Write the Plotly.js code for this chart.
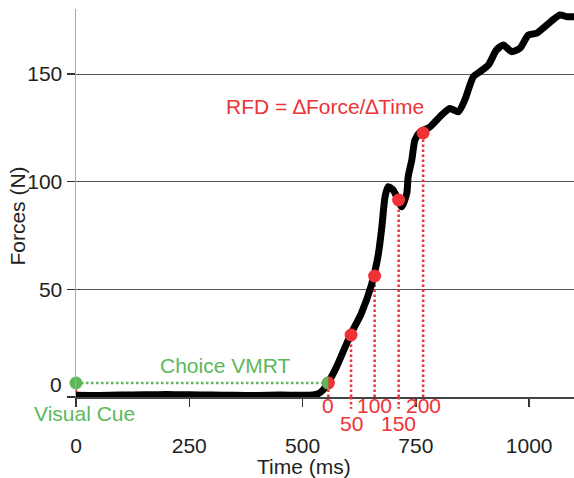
<!DOCTYPE html>
<html>
<head>
<meta charset="utf-8">
<script src="https://cdn.plot.ly/plotly-3.0.1.min.js"></script>
<style>html,body{margin:0;padding:0;background:#fff;}#chart{width:574px;height:478px;}</style>
</head>
<body>
<div id="chart"></div>
<script>
// Force trace (ms, N)
const timeMs = [0,50,100,150,200,250,300,350,400,450,500,523,535,545,556,575,605,630,652,667,675,682,689,700,711,719,730,733,741,748,759,781,807,825,844,858,877,891,910,928,943,961,980,998,1017,1039,1068,1083,1100];
const forceN = [0.8,0.7,0.9,1.0,1.2,1.0,0.9,0.8,0.7,0.9,0.8,1.0,1.6,3.2,6.5,14,28.5,39,52,66,79,93,97.7,96.1,91.5,88.4,94.6,102.3,110,119.4,123,125.4,131,134,132.5,138,148.8,151,154.2,161.2,163.5,160.4,162,168.1,169,172.8,177.4,176.6,176.6];

// RFD sample points (onset + 50 ms steps)
const rfdTimes = [557, 607, 659, 712, 766];
const rfdForces = [6.5, 28.8, 56.2, 91.5, 122.6];
const rfdLabels = ["0", "50", "100", "150", "200"];

// Visual cue
const cueTime = [0];
const cueForce = [6.5];

// Axis ticks
const xTicks = [0, 250, 500, 750, 1000];
const yTicks = [0, 50, 100, 150];
const yTickText = ["", "50", "100", "150"];

const RED = "#ee3236";
const GREEN = "#5cb85a";
const FONT = "Liberation Sans, Arial, sans-serif";
const TXT = "#231f20";
const FS = 21;

const traces = [
  { // green dotted line: visual cue -> onset
    x: [cueTime[0], rfdTimes[0]], y: [cueForce[0], cueForce[0]],
    mode: "lines", line: {color: GREEN, width: 2.5, dash: "2.5px,2.5px"}, hoverinfo: "skip"
  },
  { // force curve
    x: timeMs, y: forceN, mode: "lines",
    line: {color: "#000", width: 7, shape: "spline", smoothing: 0.6}
  },
  { // RFD points
    x: rfdTimes, y: rfdForces, mode: "markers",
    marker: {color: RED, size: 13}, cliponaxis: false
  },
  { // visual cue point
    x: cueTime, y: cueForce, mode: "markers",
    marker: {color: GREEN, size: 13}, cliponaxis: false
  }
];

const shapes = [];
const dotLine = {color: RED, width: 2.5, dash: "2.5px,2.5px"};
// red dotted line at the visual cue
shapes.push({type: "line", xref: "x", yref: "y", x0: cueTime[0], x1: cueTime[0], y0: 0, y1: cueForce[0],
  line: dotLine, layer: "between"});
rfdTimes.forEach((t, i) => {
  shapes.push({type: "line", xref: "x", yref: "y", x0: t, x1: t, y0: 0, y1: rfdForces[i],
    line: dotLine, layer: "between"});
  if (i % 2 === 1) {
    shapes.push({type: "line", xref: "x", yref: "paper", x0: t, x1: t, y0: 0, y1: -0.03,
      line: dotLine, layer: "above"});
  }
});
// green left half-disc over the onset point (pixel-sized polygon)
const R = 6.5;
let halfPath = "";
for (let k = 0; k <= 24; k++) {
  const a = Math.PI / 2 + Math.PI * k / 24;
  halfPath += (k === 0 ? "M" : "L") + (R * Math.cos(a)).toFixed(2) + "," + (R * Math.sin(a)).toFixed(2) + " ";
}
halfPath += "Z";
shapes.push({type: "path", xref: "x", yref: "y", xsizemode: "pixel", ysizemode: "pixel",
  xanchor: rfdTimes[0], yanchor: cueForce[0],
  path: halfPath, fillcolor: GREEN, line: {width: 0}, layer: "above"});

const ann = (o, color) => Object.assign({showarrow: false, xanchor: "center", yanchor: "middle",
  font: {family: FONT, size: FS, color: color}}, o);

const annotations = [
  ann({text: "RFD = \u2206Force/\u2206Time", xref: "x", yref: "y", x: 549, y: 135}, RED),
  ann({text: "Choice VMRT", xref: "x", yref: "y", x: 329, y: 14.4}, GREEN),
  ann({text: "Visual Cue", xref: "x", yref: "paper", x: cueTime[0], y: 0, xshift: 8, yshift: -16}, GREEN),
  ann({text: "0", xref: "paper", yref: "y", x: 0, y: 5.6, xanchor: "right", xshift: -12}, TXT),
  ann({text: "Time (ms)", xref: "x", yref: "paper", x: 503, y: 0, yshift: -69}, TXT),
  ann({text: "Forces (N)", xref: "paper", yref: "y", x: 0, y: 83.8, xshift: -58, textangle: -90}, TXT)
];
rfdTimes.forEach((t, i) => {
  annotations.push(ann({text: rfdLabels[i], xref: "x", yref: "paper", x: t, y: 0,
    yshift: i % 2 === 0 ? -8 : -26}, RED));
});

const layout = {
  width: 574, height: 478,
  margin: {l: 76, r: 0, t: 9, b: 81, pad: 0},
  paper_bgcolor: "#fff", plot_bgcolor: "#fff",
  showlegend: false,
  font: {family: FONT, size: FS, color: TXT},
  xaxis: {
    range: [0, 1099], tickmode: "array", tickvals: xTicks,
    ticks: "outside", ticklen: 8, tickwidth: 1.5, tickcolor: "#333",
    showline: true, linecolor: "#444", linewidth: 1.5,
    showgrid: false, zeroline: false,
    tickfont: {family: FONT, size: FS, color: TXT},
    ticklabelstandoff: 21
  },
  yaxis: {
    range: [0, 180.2], tickmode: "array", tickvals: yTicks, ticktext: yTickText,
    ticks: "outside", ticklen: 8, tickwidth: 1.5, tickcolor: "#333",
    showline: true, linecolor: "#aaa", linewidth: 1.5,
    showgrid: true, gridcolor: "#555", gridwidth: 1, zeroline: false,
    tickfont: {family: FONT, size: FS, color: TXT}
  },
  shapes: shapes,
  annotations: annotations
};

Plotly.newPlot("chart", traces, layout, {staticPlot: true, displayModeBar: false});
</script>
</body>
</html>
